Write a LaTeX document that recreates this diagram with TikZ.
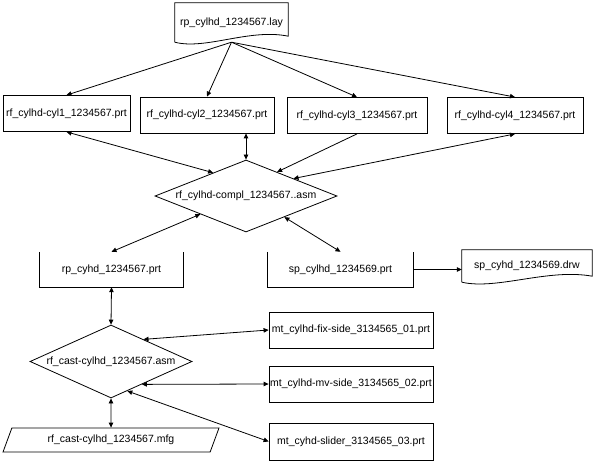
\documentclass[tikz,border=0pt]{standalone}
\usepackage{fontspec}
\setmainfont{Liberation Sans}
\usepackage{tikz}
\usetikzlibrary{positioning, arrows.meta, shapes.geometric, calc}
\newcommand{\nodefont}{\fontsize{10.5pt}{12pt}\selectfont}
\tikzset{
  % part box
  prtbox/.style={
    rectangle, draw, line width=0.8pt,
    minimum height=36pt, inner sep=0pt, font=\nodefont
  },
  % document (outline drawn by \docoutline)
  docbox/.style={rectangle, inner sep=0pt, font=\nodefont},
  % box with no top edge (outline drawn by \openoutline)
  openbox/.style={rectangle, inner sep=0pt, minimum height=35pt, font=\nodefont},
  % assembly diamond
  asmdia/.style={diamond, draw, line width=0.8pt, inner sep=0pt, font=\nodefont},
  % manufacturing file
  mfgbox/.style={
    trapezium, trapezium left angle=60, trapezium right angle=120,
    trapezium stretches=true, draw, line width=0.8pt,
    minimum width=216pt, minimum height=24pt, inner sep=0pt, font=\nodefont
  },
  % arrow styles
  arr/.style={-{Triangle[length=5pt,width=4.5pt]}, line width=0.8pt},
  darr/.style={{Triangle[length=5pt,width=4.5pt]}-{Triangle[length=5pt,width=4.5pt]}, line width=0.8pt},
}
% document outline with a wavy foot
\newcommand{\docoutline}[1]{%
  \draw[line width=0.8pt] (#1.south west) -- (#1.north west) -- (#1.north east)
    -- ($(#1.south east)+(0,-6)$)
    .. controls ($(#1.south east)!0.34!(#1.south west)+(0,-14)$)
    and ($(#1.south east)!0.73!(#1.south west)+(0,8)$) .. (#1.south west);}
% box without its top edge
\newcommand{\openoutline}[1]{%
  \draw[line width=0.8pt] (#1.north west) -- (#1.south west) -- (#1.south east) -- (#1.north east);}

\begin{document}
\begin{tikzpicture}[x=1pt, y=-1pt]
  \useasboundingbox (0,0) rectangle (593,462);
  % layout and cylinders
  \node[docbox, minimum width=113pt, minimum height=39pt] (lay) at (231.5,22.5) {rp\_cylhd\_1234567.lay};
  \node[prtbox, minimum width=127pt] (cyl1) at (66.5,113.5) {rf\_cylhd-cyl1\_1234567.prt};
  \node[prtbox, minimum width=134pt] (cyl2) at (207,115) {rf\_cylhd-cyl2\_1234567.prt};
  \node[prtbox, minimum width=140pt] (cyl3) at (357,115.5) {rf\_cylhd-cyl3\_1234567.prt};
  \node[prtbox, minimum width=136pt] (cyl4) at (515,115.5) {rf\_cylhd-cyl4\_1234567.prt};
  % complete assembly
  \node[asmdia, minimum width=182pt, minimum height=72pt] (compl) at (246,196) {\makebox[0pt]{rf\_cylhd-compl\_1234567..asm}};
  \node[openbox, minimum width=143pt] (rpprt) at (111.5,269.5) {rp\_cyhd\_1234567.prt};
  \node[openbox, minimum width=145pt] (spprt) at (340.5,269.5) {sp\_cylhd\_1234569.prt};
  \node[docbox, minimum width=130pt, minimum height=32pt] (drw) at (527,266) {sp\_cyhd\_1234569.drw};
  % casting
  \node[asmdia, minimum width=162pt, minimum height=73pt] (cast) at (111,361.5) {\makebox[0pt]{rf\_cast-cylhd\_1234567.asm}};
  \node[mfgbox] (mfg) at (111,440) {rf\_cast-cylhd\_1234567.mfg};
  \node[prtbox, minimum width=164pt] (fix) at (351,330) {mt\_cylhd-fix-side\_3134565\_01.prt};
  \node[prtbox, minimum width=164pt] (mv) at (351,384) {mt\_cylhd-mv-side\_3134565\_02.prt};
  \node[prtbox, minimum width=164pt, minimum height=37pt] (slider) at (351,441.5) {mt\_cyhd-slider\_3134565\_03.prt};
  \docoutline{lay}
  \docoutline{drw}
  \openoutline{rpprt}
  \openoutline{spprt}
  % connectors
  \draw[arr] (lay.south) -- (cyl1.north);
  \draw[arr] (lay.south) -- (cyl2.north);
  \draw[arr] (lay.south) -- (cyl3.north);
  \draw[arr] (lay.south) -- (cyl4.north);
  \draw[darr] (cyl1.south) -- ($(compl.west)!0.64!(compl.north)$);
  \draw[darr] (compl.north |- cyl2.south) -- (compl.north);
  \draw[arr] (cyl3.south) -- ($(compl.north)!0.34!(compl.east)$);
  \draw[darr] (cyl4.south) -- ($(compl.north)!0.52!(compl.east)$);
  \draw[darr] ($(compl.west)!0.5!(compl.south)$) -- (rpprt.north);
  \draw[darr] ($(compl.south)!0.42!(compl.east)$) -- (spprt.north);
  \draw[arr] (spprt.east) -- (spprt.east -| drw.west);
  \draw[darr] (rpprt.south) -- (cast.north);
  \draw[darr] ($(cast.north)!0.4!(cast.east)$) -- (fix.west);
  \draw[darr] ($(cast.south)!0.38!(cast.east)$) -- (mv.west);
  \draw[darr] ($(cast.south)!0.2!(cast.east)$) -- (slider.west);
  \draw[darr] (cast.south) -- (mfg.north);
\end{tikzpicture}
\end{document}
